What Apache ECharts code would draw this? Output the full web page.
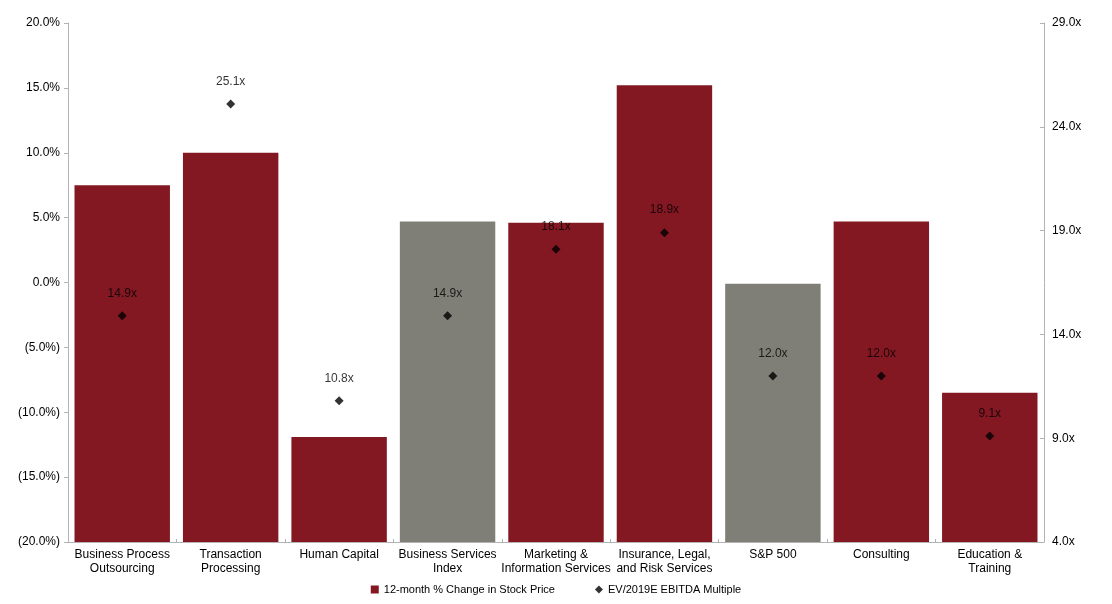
<!DOCTYPE html>
<html><head><meta charset="utf-8">
<script src="https://cdn.jsdelivr.net/npm/echarts@6/dist/echarts.min.js"></script>
<style>html,body{margin:0;padding:0;background:#fff}#c{width:1112px;height:604px}</style>
</head><body><div id="c"></div>
<script>
const categories = ['Business Process\nOutsourcing','Transaction\nProcessing','Human Capital','Business Services\nIndex','Marketing &\nInformation Services','Insurance, Legal,\nand Risk Services','S&P 500','Consulting','Education &\nTraining'];
const stockChange = [7.5, 10.0, -11.9, 4.7, 4.6, 15.2, -0.1, 4.7, -8.5];
const isIndex = [false, false, false, true, false, false, true, false, false];
const evMultiple = [14.9, 25.1, 10.8, 14.9, 18.1, 18.9, 12.0, 12.0, 9.1];
const leftTicks = [-20, -15, -10, -5, 0, 5, 10, 15, 20];
const rightTicks = [4, 9, 14, 19, 24, 29];

const AXIS_MIN = -20;
const RED = '#831823', GRAY = '#7f7f77';
const font = 'Liberation Sans, Arial, sans-serif';

function pct(v){ v = Math.round(v*10)/10; return v < 0 ? '(' + Math.abs(v).toFixed(1) + '%)' : v.toFixed(1) + '%'; }

const chart = echarts.init(document.getElementById('c'));
chart.setOption({
  animation: false,
  textStyle: {fontFamily: font},
  grid: {left: 68, right: 68, top: 23, bottom: 62},
  legend: {
    bottom: 4, left: 'center', itemGap: 40, itemWidth: 8, itemHeight: 8,
    textStyle: {fontSize: 11, color: '#000', fontFamily: font},
    data: [{name: '12-month % Change in Stock Price', icon: 'rect', itemStyle: {color: RED}},
           {name: 'EV/2019E EBITDA Multiple', icon: 'diamond', itemStyle: {color: '#000'}}]
  },
  xAxis: {
    type: 'category', data: categories,
    axisLine: {lineStyle: {color: '#b3b3b3', width: 1}},
    axisTick: {show: true, inside: true, length: 3, lineStyle: {color: '#b3b3b3'}},
    axisLabel: {color: '#000', fontSize: 12, lineHeight: 14, margin: 6, interval: 0, fontFamily: font}
  },
  yAxis: [{
    type: 'value', min: 0, max: 40, interval: 5,
    splitLine: {show: false},
    axisLine: {show: true, lineStyle: {color: '#b3b3b3'}},
    axisTick: {show: true, length: 4, lineStyle: {color: '#b3b3b3'}},
    axisLabel: {color: '#000', fontSize: 12, margin: 8, fontFamily: font, formatter: v => pct(v + AXIS_MIN)}
  }, {
    type: 'value', min: 4, max: 29, interval: 5, position: 'right',
    splitLine: {show: false},
    axisLine: {show: true, lineStyle: {color: '#b3b3b3'}},
    axisTick: {show: true, inside: true, length: 4, lineStyle: {color: '#b3b3b3'}},
    axisLabel: {color: '#000', fontSize: 12, margin: 8, fontFamily: font, formatter: v => v.toFixed(1) + 'x'}
  }],
  series: [{
    name: '12-month % Change in Stock Price', type: 'bar', yAxisIndex: 0,
    barCategoryGap: '12%',
    data: stockChange.map((v, i) => ({value: v - AXIS_MIN, itemStyle: {color: isIndex[i] ? GRAY : RED}})),
    itemStyle: {color: RED}
  }, {
    name: 'EV/2019E EBITDA Multiple', type: 'scatter', yAxisIndex: 1,
    symbol: 'diamond', symbolSize: 9, itemStyle: {color: '#000'},
    data: evMultiple,
    label: {show: true, position: 'top', distance: 12, color: '#000', fontSize: 12, fontFamily: font, formatter: p => p.value.toFixed(1) + 'x'}
  }]
});
</script></body></html>
